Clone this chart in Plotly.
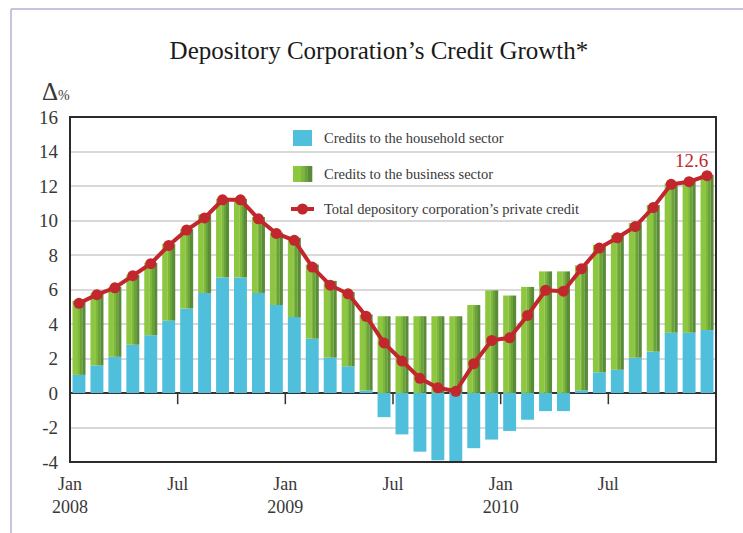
import plotly.graph_objects as go

# Monthly series, Jan 2008 - Dec 2010 (annual % change)
months = [f"{m} {y}" for y in (2008, 2009, 2010)
          for m in ("Jan", "Feb", "Mar", "Apr", "May", "Jun",
                    "Jul", "Aug", "Sep", "Oct", "Nov", "Dec")]

household = [1.05, 1.6, 2.1, 2.8, 3.35, 4.2, 4.9, 5.8, 6.7, 6.7, 5.8, 5.1,
             4.4, 3.15, 2.05, 1.55, 0.15, -1.4, -2.4, -3.4, -3.9, -4.0, -3.2, -2.7,
             -2.2, -1.55, -1.05, -1.05, 0.15, 1.2, 1.35, 2.05, 2.4, 3.5, 3.5, 3.65]

business = [4.3, 4.2, 4.05, 4.05, 4.2, 4.45, 4.6, 4.55, 4.55, 4.55, 4.4, 4.2,
            4.6, 4.3, 4.45, 4.3, 4.4, 4.45, 4.45, 4.45, 4.45, 4.45, 5.1, 5.95,
            5.65, 6.15, 7.05, 7.05, 7.25, 7.4, 7.8, 7.8, 8.5, 8.65, 8.8, 9.0]

total = [5.2, 5.7, 6.1, 6.8, 7.5, 8.55, 9.45, 10.15, 11.2, 11.2, 10.1, 9.25,
         8.85, 7.3, 6.25, 5.75, 4.45, 2.9, 1.85, 0.85, 0.3, 0.1, 1.7, 3.05,
         3.2, 4.5, 5.95, 5.9, 7.2, 8.4, 9.0, 9.65, 10.75, 12.1, 12.25, 12.6]

xtick_months = ["Jan 2008", "Jul 2008", "Jan 2009", "Jul 2009", "Jan 2010", "Jul 2010"]
xtick_text = ["Jan<br>2008", "Jul", "Jan<br>2009", "Jul", "Jan<br>2010", "Jul"]
ytick_vals = [-4, -2, 0, 2, 4, 6, 8, 10, 12, 14, 16]
ytick_text = ["-4", "-2", "0", "2", "4", "6", "8", "10", "12", "14", "16"]

legend_names = ["Credits to the household sector",
                "Credits to the business sector",
                "Total depository corporation\u2019s private credit"]

BLUE = "#50bfdb"
RED = "#c1272d"
GREENS = ["#8dc63f", "#7db83d", "#6aa33a", "#5a8b36"]
GREEN_SPLIT = [0.42, 0.2, 0.14, 0.24]   # share of bar width per shade
SERIF = "Liberation Serif"
TXT = "#383838"

x = list(range(len(months)))
BAR_W = 0.72

fig = go.Figure()

# household bars from zero
fig.add_trace(go.Bar(x=x, y=household, base=[0] * len(x), width=BAR_W,
                     offset=-BAR_W / 2, marker=dict(color=BLUE, line=dict(width=0)),
                     name=legend_names[0], showlegend=False))

# business bars sit on top of positive household values, otherwise on zero;
# drawn as vertical shade strips to give the shaded-column look
green_base = [max(h, 0) for h in household]
start = -BAR_W / 2
for col, frac in zip(GREENS, GREEN_SPLIT):
    w = BAR_W * frac
    fig.add_trace(go.Bar(x=x, y=business, base=green_base, width=w + 0.004,
                         offset=start, marker=dict(color=col, line=dict(width=0)),
                         name=legend_names[1], showlegend=False))
    start += w

fig.add_trace(go.Scatter(x=x, y=total, mode="lines+markers",
                         line=dict(color=RED, width=4),
                         marker=dict(color=RED, size=11),
                         name=legend_names[2], showlegend=False))

# latest value label
fig.add_annotation(x=x[-1], y=total[-1], text=f"{total[-1]}", showarrow=False,
                   xanchor="right", yanchor="middle", xshift=3, yshift=15,
                   font=dict(family=SERIF, size=19, color=RED))

# tick marks hanging from the zero line
tick_pos = [months.index(m) - 0.5 for m in xtick_months]
for tp in tick_pos[1:]:
    fig.add_shape(type="line", xref="x", yref="y", x0=tp, x1=tp, y0=0, y1=-0.65,
                  line=dict(color="#333333", width=1.5), layer="above")

# plot frame
fig.add_shape(type="rect", xref="paper", yref="paper", x0=0, x1=1, y0=0, y1=1,
              line=dict(color="#2b2b2b", width=2), layer="above")

# outer page frame (left and top edges)
PX_L, PX_R, PX_T, PX_B = 70, 716, 117, 462
def px(v):
    return (v - PX_L) / (PX_R - PX_L)
def py(v):
    return (PX_B - v) / (PX_B - PX_T)

fig.add_shape(type="line", xref="paper", yref="paper", x0=px(11), x1=px(11),
              y0=py(9), y1=py(560), line=dict(color="#b9aed8", width=1.5))
fig.add_shape(type="line", xref="paper", yref="paper", x0=px(11), x1=px(760),
              y0=py(9), y1=py(9), line=dict(color="#b9aed8", width=1.5))

# legend drawn inside the plot between grid lines
rows = [138, 174, 209]
TXT_X = px(322)
fig.add_shape(type="rect", xref="paper", yref="paper", x0=px(293), x1=px(312),
              y0=py(rows[0] + 8), y1=py(rows[0] - 8), fillcolor=BLUE,
              line=dict(width=0))
sx = 293.0
for col, frac in zip(GREENS, GREEN_SPLIT):
    w = 19 * frac
    fig.add_shape(type="rect", xref="paper", yref="paper", x0=px(sx), x1=px(sx + w + 0.3),
                  y0=py(rows[1] + 8), y1=py(rows[1] - 8), fillcolor=col,
                  line=dict(width=0))
    sx += w
fig.add_shape(type="line", xref="paper", yref="paper", x0=px(291), x1=px(314),
              y0=py(rows[2]), y1=py(rows[2]), line=dict(color=RED, width=4))
fig.add_shape(type="circle", xref="paper", yref="paper", x0=px(297), x1=px(308),
              y0=py(rows[2] + 5.5), y1=py(rows[2] - 5.5), fillcolor=RED,
              line=dict(width=0))
for name, r in zip(legend_names, rows):
    fig.add_annotation(xref="paper", yref="paper", x=TXT_X, y=py(r), text=name,
                       showarrow=False, xanchor="left", yanchor="middle",
                       font=dict(family=SERIF, size=14.5, color=TXT))

# unit label
fig.add_annotation(xref="paper", yref="paper", x=px(40), y=py(91),
                   text="\u0394<span style='font-size:14px'>%</span>",
                   showarrow=False, xanchor="left", yanchor="middle",
                   font=dict(family=SERIF, size=25, color=TXT))

fig.update_layout(
    width=743, height=533,
    margin=dict(l=PX_L, r=743 - PX_R, t=PX_T, b=533 - PX_B),
    paper_bgcolor="white", plot_bgcolor="white",
    barmode="overlay", showlegend=False,
    title=dict(text="Depository Corporation\u2019s Credit Growth*",
               x=0.51, xref="container", xanchor="center",
               y=1 - 50 / 533, yref="container", yanchor="middle",
               font=dict(family=SERIF, size=25, color="#1a1a1a")),
    xaxis=dict(range=[-0.5, len(months) - 0.5], tickmode="array",
               tickvals=tick_pos, ticktext=xtick_text, showgrid=False,
               zeroline=False, showline=False, ticks="",
               ticklabelstandoff=9,
               tickfont=dict(family=SERIF, size=18, color=TXT)),
    yaxis=dict(range=[-4, 16], tickmode="array", tickvals=ytick_vals,
               ticktext=ytick_text, showgrid=True, gridcolor="#d9d9d9",
               gridwidth=1.5, zeroline=True, zerolinecolor="#333333",
               zerolinewidth=2, showline=False, ticks="",
               ticklabelstandoff=11,
               tickfont=dict(family=SERIF, size=19, color=TXT)),
)

fig.write_html("out.html")
